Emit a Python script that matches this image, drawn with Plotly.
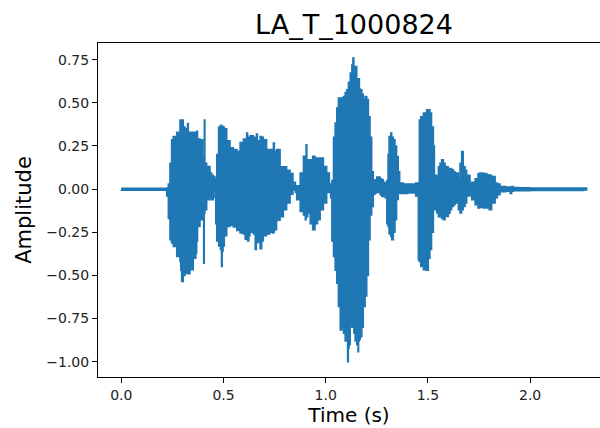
import plotly.graph_objects as go

# Envelope of the waveform (time in s, amplitude)
time_s = [0.000, 0.222, 0.230, 0.238, 0.246, 0.254, 0.271, 0.287, 0.291, 0.295, 0.303, 0.312,
          0.320, 0.324, 0.328, 0.336, 0.352, 0.365, 0.369, 0.373, 0.385, 0.398, 0.403, 0.406,
          0.409, 0.418, 0.434, 0.442, 0.450, 0.458, 0.462, 0.467, 0.476, 0.485, 0.490, 0.494,
          0.498, 0.504, 0.516, 0.532, 0.548, 0.565, 0.581, 0.597, 0.606, 0.613, 0.618, 0.624,
          0.630, 0.646, 0.655, 0.661, 0.666, 0.679, 0.687, 0.695, 0.711, 0.727, 0.740, 0.744,
          0.749, 0.760, 0.777, 0.793, 0.809, 0.826, 0.840, 0.852, 0.858, 0.875, 0.891, 0.900,
          0.904, 0.908, 0.912, 0.924, 0.936, 0.948, 0.960, 0.973, 0.989, 1.005, 1.018, 1.024,
          1.030, 1.038, 1.046, 1.054, 1.062, 1.071, 1.079, 1.087, 1.095, 1.103, 1.107, 1.111,
          1.115, 1.120, 1.128, 1.133, 1.138, 1.144, 1.152, 1.158, 1.161, 1.165, 1.169, 1.177,
          1.184, 1.193, 1.201, 1.209, 1.217, 1.225, 1.233, 1.241, 1.250, 1.258, 1.266, 1.274,
          1.282, 1.290, 1.299, 1.305, 1.310, 1.318, 1.323, 1.331, 1.339, 1.347, 1.355, 1.362,
          1.380, 1.400, 1.420, 1.440, 1.453, 1.458, 1.465, 1.478, 1.494, 1.502, 1.510, 1.518,
          1.527, 1.532, 1.543, 1.551, 1.559, 1.567, 1.576, 1.584, 1.592, 1.600, 1.608, 1.616,
          1.625, 1.633, 1.649, 1.657, 1.665, 1.673, 1.682, 1.690, 1.706, 1.714, 1.731, 1.745,
          1.755, 1.770, 1.788, 1.800, 1.812, 1.829, 1.840, 1.853, 1.880, 1.902, 1.910, 1.918,
          1.951, 2.000, 2.114, 2.200, 2.261, 2.277]

upper = [0.005, 0.006, 0.030, 0.150, 0.286, 0.305, 0.330, 0.400, 0.370, 0.400, 0.360, 0.350,
         0.340, 0.380, 0.330, 0.330, 0.330, 0.300, 0.335, 0.290, 0.286, 0.190, 0.170, 0.400,
         0.150, 0.131, 0.093, 0.080, 0.073, 0.050, 0.060, 0.200, 0.360, 0.370, 0.360, 0.365,
         0.360, 0.350, 0.280, 0.240, 0.230, 0.220, 0.270, 0.290, 0.280, 0.325, 0.290, 0.300,
         0.310, 0.300, 0.280, 0.320, 0.280, 0.305, 0.300, 0.286, 0.230, 0.230, 0.220, 0.267,
         0.220, 0.230, 0.130, 0.130, 0.110, 0.090, 0.040, 0.005, 0.020, 0.093, 0.190, 0.170,
         0.257, 0.170, 0.170, 0.170, 0.190, 0.180, 0.180, 0.180, 0.131, 0.093, 0.030, 0.005,
         0.050, 0.300, 0.383, 0.470, 0.528, 0.520, 0.530, 0.537, 0.560, 0.576, 0.560, 0.620,
         0.600, 0.673, 0.720, 0.760, 0.700, 0.711, 0.640, 0.600, 0.640, 0.580, 0.576, 0.550,
         0.520, 0.537, 0.520, 0.420, 0.300, 0.100, 0.054, 0.050, 0.070, 0.070, 0.060, 0.054,
         0.040, 0.035, 0.050, 0.200, 0.305, 0.325, 0.300, 0.286, 0.250, 0.189, 0.100, 0.035,
         0.030, 0.030, 0.030, 0.035, 0.035, 0.400, 0.420, 0.441, 0.460, 0.460, 0.441, 0.360,
         0.250, 0.080, 0.070, 0.130, 0.150, 0.170, 0.150, 0.131, 0.130, 0.110, 0.120, 0.112,
         0.100, 0.093, 0.060, 0.150, 0.218, 0.130, 0.110, 0.080, 0.030, 0.040, 0.060, 0.090,
         0.093, 0.090, 0.083, 0.080, 0.073, 0.035, 0.030, 0.015, 0.012, 0.012, 0.015, 0.010,
         0.008, 0.007, 0.006, 0.007, 0.007, 0.005]

lower = [-0.005, -0.006, -0.040, -0.170, -0.294, -0.313, -0.333, -0.391, -0.420, -0.470, -0.536, -0.500,
         -0.487, -0.480, -0.490, -0.490, -0.468, -0.400, -0.371, -0.300, -0.217, -0.178, -0.160, -0.430,
         -0.140, -0.120, -0.062, -0.050, -0.062, -0.010, -0.050, -0.200, -0.300, -0.330, -0.350, -0.449,
         -0.360, -0.330, -0.270, -0.217, -0.210, -0.220, -0.240, -0.255, -0.260, -0.290, -0.270, -0.300,
         -0.270, -0.250, -0.260, -0.350, -0.280, -0.310, -0.345, -0.300, -0.270, -0.260, -0.250, -0.255,
         -0.250, -0.236, -0.180, -0.160, -0.120, -0.080, -0.030, -0.005, -0.020, -0.062, -0.130, -0.150,
         -0.178, -0.150, -0.160, -0.139, -0.200, -0.236, -0.200, -0.178, -0.120, -0.081, -0.020, -0.005,
         -0.050, -0.300, -0.391, -0.470, -0.545, -0.681, -0.816, -0.800, -0.835, -0.880, -0.850, -1.000,
         -0.920, -0.900, -0.777, -0.800, -0.780, -0.835, -0.880, -0.900, -0.942, -0.880, -0.870, -0.855,
         -0.800, -0.680, -0.620, -0.500, -0.294, -0.150, -0.101, -0.030, -0.023, -0.014, -0.020, -0.033,
         -0.043, -0.030, -0.050, -0.200, -0.217, -0.260, -0.275, -0.294, -0.250, -0.178, -0.060, -0.023,
         -0.025, -0.025, -0.023, -0.023, -0.040, -0.410, -0.420, -0.449, -0.468, -0.470, -0.400, -0.350,
         -0.250, -0.090, -0.120, -0.139, -0.160, -0.159, -0.170, -0.178, -0.150, -0.159, -0.140, -0.120,
         -0.100, -0.090, -0.081, -0.120, -0.139, -0.120, -0.100, -0.080, -0.040, -0.030, -0.062, -0.090,
         -0.110, -0.105, -0.110, -0.110, -0.120, -0.081, -0.050, -0.033, -0.015, -0.012, -0.025, -0.012,
         -0.010, -0.009, -0.008, -0.008, -0.008, -0.005]

x_ticks = [0.0, 0.5, 1.0, 1.5, 2.0]
y_ticks = [-1.0, -0.75, -0.5, -0.25, 0.0, 0.25, 0.5, 0.75]

title_text = "LA_T_1000824"
x_label = "Time (s)"
y_label = "Amplitude"

C0 = "#1f77b4"
FONT = "DejaVu Sans"

poly_x = list(time_s) + list(reversed(time_s))
poly_y = list(upper) + list(reversed(lower))

fig = go.Figure()
fig.add_trace(go.Scatter(
    x=poly_x, y=poly_y, mode="lines", fill="toself", line_shape="hv",
    fillcolor=C0, line=dict(color=C0, width=1.5), hoverinfo="skip", showlegend=False,
))

fig.update_layout(
    width=600, height=428,
    margin=dict(l=98, r=0, t=43, b=51),
    paper_bgcolor="white", plot_bgcolor="white",
    font=dict(family=FONT, color="black", size=14),
    title=dict(text=title_text, font=dict(size=27, family=FONT, color="black"),
               x=(354 - 98) / 502, xref="paper", xanchor="center",
               y=1 - 25 / 428, yref="container", yanchor="middle"),
    showlegend=False,
)
fig.update_xaxes(
    range=[-0.114, 2.342], tickvals=x_ticks, tickformat=".1f",
    ticks="outside", ticklen=5, tickwidth=1, tickcolor="black",
    showline=True, linecolor="black", linewidth=1, mirror=True,
    showgrid=False, zeroline=False,
    tickfont=dict(size=14, family=FONT, color="#222"),
    title=dict(text=x_label, font=dict(size=20, family=FONT, color="black"), standoff=4),
)
fig.update_yaxes(
    range=[-1.089, 0.847], tickvals=y_ticks, tickformat=".2f",
    ticks="outside", ticklen=5, tickwidth=1, tickcolor="black",
    showline=True, linecolor="black", linewidth=1, mirror=False,
    showgrid=False, zeroline=False,
    tickfont=dict(size=14, family=FONT, color="#222"),
    title=dict(text=y_label, font=dict(size=21, family=FONT, color="black"), standoff=8),
)

fig.write_html("out.html")
